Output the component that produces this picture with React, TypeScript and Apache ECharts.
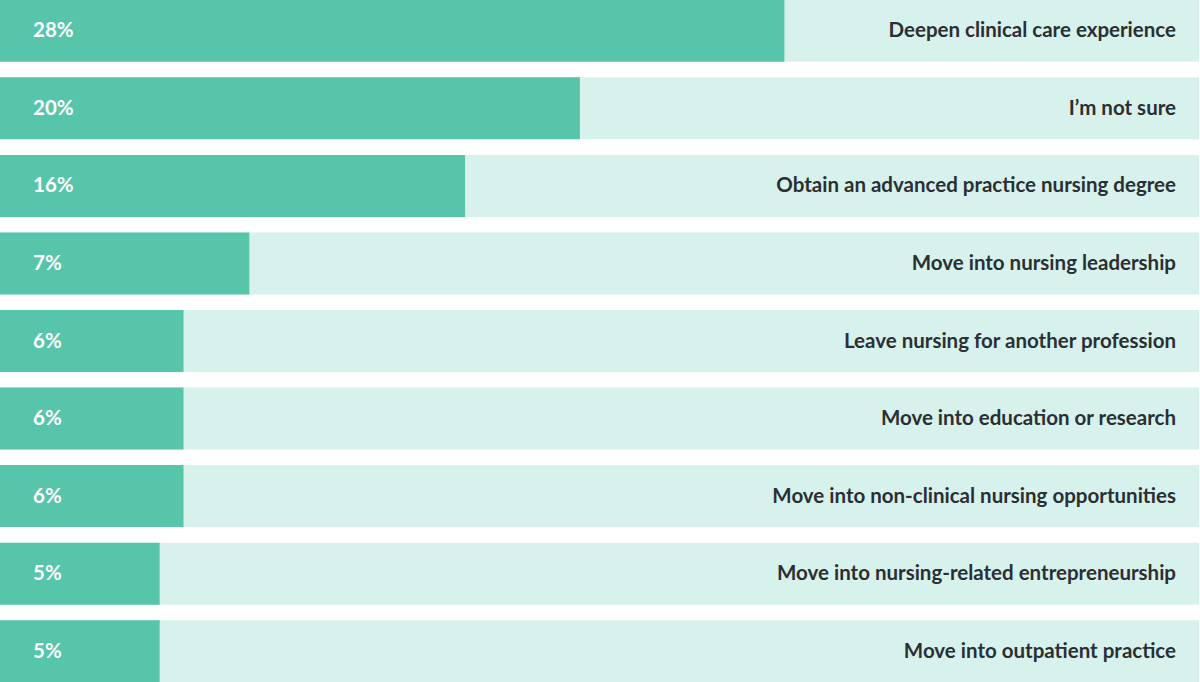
import React, { useEffect, useRef } from "react";
import * as echarts from "echarts";

// Answers, top to bottom
const categories = [
  "Deepen clinical care experience",
  "I’m not sure",
  "Obtain an advanced practice nursing degree",
  "Move into nursing leadership",
  "Leave nursing for another profession",
  "Move into education or research",
  "Move into non-clinical nursing opportunities",
  "Move into nursing-related entrepreneurship",
  "Move into outpatient practice",
];
// printed share labels
const shareLabels = ["28%", "20%", "16%", "7%", "6%", "6%", "6%", "5%", "5%"];
// bar lengths as drawn
const barValues = [28, 20.7, 16.6, 8.9, 6.55, 6.55, 6.55, 5.7, 5.7];
const axisMax = 42.8;

const GREEN = "#57c5a9";
const MINT = "#d7f2ec";
const FONT = "Lato, 'Open Sans', sans-serif";

export default function App() {
  const ref = useRef<HTMLDivElement>(null);

  useEffect(() => {
    if (!ref.current) return;
    const chart = echarts.init(ref.current, undefined, { renderer: "svg" });
    chart.setOption({
      animation: false,
      grid: { left: 0, right: 1, top: 0, bottom: 0 },
      xAxis: {
        type: "value",
        min: 0,
        max: axisMax,
        show: false,
      },
      yAxis: {
        type: "category",
        data: categories,
        inverse: true,
        show: false,
      },
      series: [
        {
          name: "track",
          type: "bar",
          barWidth: 62,
          barGap: "-100%",
          silent: true,
          itemStyle: { color: MINT },
          data: categories.map(() => axisMax),
          label: {
            show: true,
            position: "insideRight",
            distance: 23,
            offset: [0, -1.5],
            formatter: "{b}",
            color: "#2b2f33",
            fontFamily: FONT,
            fontWeight: 700,
            fontSize: 20.5,
          },
        },
        {
          name: "share",
          type: "bar",
          barWidth: 62,
          barGap: "-100%",
          itemStyle: { color: GREEN },
          data: barValues,
          label: {
            show: true,
            position: "insideLeft",
            distance: 33,
            offset: [0, -1.5],
            formatter: (p: any) => shareLabels[p.dataIndex],
            color: "#ffffff",
            fontFamily: FONT,
            fontWeight: 700,
            fontSize: 20.5,
          },
        },
      ],
    });
    return () => chart.dispose();
  }, []);

  // band of 77.5px per row; the outer gaps fall outside the page
  return (
    <div
      ref={ref}
      style={{ position: "fixed", left: 0, top: -7.75, width: 1200, height: 697.5, background: "#fff" }}
    />
  );
}
